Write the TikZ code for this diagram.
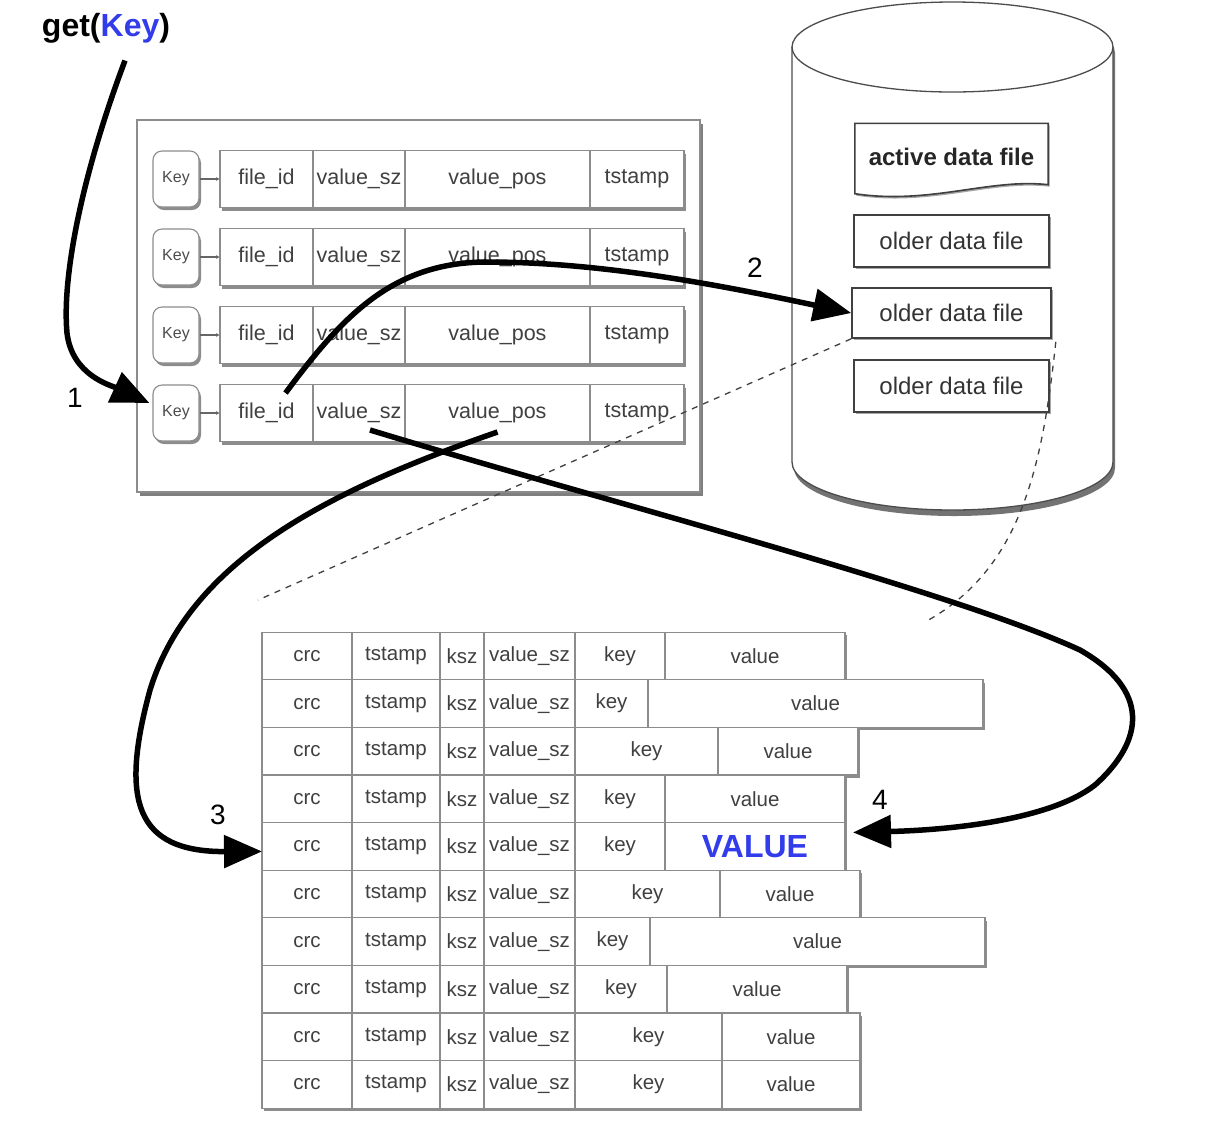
\documentclass[tikz,border=0pt]{standalone}
\usepackage{fontspec}
\setmainfont{Liberation Sans}
\usetikzlibrary{arrows.meta,shadows,calc}
\definecolor{keyblue}{RGB}{50,60,235}
\newcommand\valtxt{{\fontsize{32}{36}\selectfont\bfseries\color{keyblue}VALUE}}
\begin{document}
\begin{tikzpicture}[x=1pt,y=-1pt,
  shad/.style={drop shadow={shadow xshift=2pt,shadow yshift=-3pt,opacity=0.45,fill=black}},
  cell/.style={draw=black!45,line width=1.1pt,fill=white,inner sep=0pt,outer sep=0pt,
    minimum height=57pt,font=\fontsize{21.5}{24}\selectfont,text=black!75},
  bcell/.style={cell,minimum height=47.6pt,font=\fontsize{20.5}{23}\selectfont},
  keybox/.style={draw=black!45,line width=1.1pt,rounded corners=9pt,fill=white,
    minimum width=46pt,minimum height=56pt,inner sep=0pt,
    font=\fontsize{16}{18}\selectfont,text=black!70,shad},
  filebox/.style={draw=black!75,line width=1.6pt,fill=white,inner sep=0pt,
    font=\fontsize{24}{28}\selectfont,text=black!80,
    drop shadow={shadow xshift=1.5pt,shadow yshift=-2pt,opacity=0.35,fill=black}},
  flow/.style={line width=5.5pt,-{Triangle[length=38pt,width=32pt]}},
  num/.style={font=\fontsize{28}{32}\selectfont},
  dashl/.style={dash pattern=on 6pt off 6pt,line width=1.3pt,black!75}]
\useasboundingbox (0,0) rectangle (1222,1144);

% ---------- index (keydir) ----------
\path[fill=white,draw=black!45,line width=1.3pt,
  drop shadow={shadow xshift=2.5pt,shadow yshift=-4pt,opacity=0.5,fill=black}]
  (137,120) rectangle (700,492);
\node[inner sep=0pt] (index) at (418.5,306) {};

\foreach \i in {1,...,4}{
  \pgfmathsetmacro\yc{179+78*(\i-1)}
  \path[fill=white,shad] (220,\yc-28.5) rectangle (684,\yc+28.5);
  \node[keybox] (k\i) at (176,\yc) {Key};
  \node[cell,minimum width=93pt] (f\i) at (266.5,\yc) {file\_id};
  \node[cell,minimum width=92pt] (s\i) at (359,\yc) {value\_sz};
  \node[cell,minimum width=185pt] (p\i) at (497.5,\yc) {value\_pos};
  \node[cell,minimum width=94pt] (t\i) at (637,\yc) {tstamp};
  \draw[black!60,line width=1.2pt,-{Latex[length=4pt,width=4pt]}] (k\i) -- (f\i);
}

% ---------- disk cylinder ----------
\path[fill=white,draw=black!70,line width=1.3pt,
  drop shadow={shadow xshift=2pt,shadow yshift=-6pt,opacity=0.55,fill=black}]
  (792,47) -- (792,462) arc[start angle=180,end angle=0,x radius=160.5,y radius=48]
  -- (1113,47) arc[start angle=0,end angle=-180,x radius=160.5,y radius=45] -- cycle;
\draw[black!70,line width=1.3pt] (792,47) arc[start angle=180,end angle=0,x radius=160.5,y radius=45];

\node[inner sep=0pt,minimum width=193pt,minimum height=63pt] (active) at (951.5,155) {};
\path[fill=white,draw=black!75,line width=1.6pt,
  drop shadow={shadow xshift=1.5pt,shadow yshift=-2pt,opacity=0.35,fill=black}]
  (active.north west) -- (active.north east) -- ($(active.south east)+(0,-2)$)
  .. controls (990,178) and (930,205) .. ($(active.south west)+(0,7)$) -- cycle;
\node[font=\fontsize{24}{28}\selectfont\bfseries,text=black!85] (activetxt) at (951.5,157) {active data file};

\node[filebox,minimum width=195pt,minimum height=52pt] (o1) at (951.5,241) {older data file};
\node[filebox,minimum width=199pt,minimum height=50pt] (o2) at (951.5,313) {older data file};
\node[filebox,minimum width=195pt,minimum height=52pt] (o3) at (951.5,386) {older data file};

% ---------- data file records ----------
\foreach \r/\ke/\ve/\vt in {1/665/845/value,2/648/983/value,3/718/858/value,
  4/665/845/value,5/665/845/{\valtxt},6/720/860/value,7/650/985/value,
  8/667/847/value,9/722/860/value,10/722/860/value}{
  \pgfmathsetmacro\yc{656+47.6*(\r-1)}
  \pgfmathsetmacro\kc{(575+\ke)/2}
  \pgfmathsetmacro\kw{\ke-575}
  \pgfmathsetmacro\vc{(\ke+\ve)/2}
  \pgfmathsetmacro\vw{\ve-\ke}
  \path[fill=white,shad] (262,\yc-23.8) rectangle (\ve,\yc+23.8);
  \node[bcell,minimum width=90pt] (crc\r) at (307,\yc) {crc};
  \node[bcell,minimum width=88pt] (ts\r) at (396,\yc) {tstamp};
  \node[bcell,minimum width=44pt] (ksz\r) at (462,\yc) {ksz};
  \node[bcell,minimum width=91pt] (vsz\r) at (529.5,\yc) {value\_sz};
  \node[bcell,minimum width=\kw pt] (key\r) at (\kc,\yc) {key};
  \node[bcell,minimum width=\vw pt] (val\r) at (\vc,\yc) {\vt};
}

% ---------- dashed zoom lines ----------
\coordinate (dl) at (258,600);
\coordinate (dr) at (925,622);
\draw[dashl] (o2.south west) -- (dl);
\draw[dashl] ($(o2.south east)+(4,3)$) .. controls (1042,470) and (1020,570) .. (dr);

% ---------- get(Key) ----------
\node[font=\fontsize{32}{36}\selectfont\bfseries] (get) at (106,28) {get({\color{keyblue}Key})};

% ---------- flow arrows ----------
\draw[flow] ($(get.south)+(19,14)$) .. controls (80,180) and (62,280) .. (67,333)
  .. controls (72,375) and (110,385) .. ($(k4.west)+(-3,-10)$);
\draw[flow] ($(f4.center)+(19,-20)$) .. controls (340,320) and (390,262) .. (487,262)
  .. controls (600,262) and (720,285) .. (o2.west);
\draw[flow] ($(p4.center)+(0,19)$) .. controls (330,490) and (190,560) .. (150,690)
  .. controls (120,800) and (135,852) .. ($(crc5.west)+(0,5)$);
\draw[flow] ($(s4.center)+(11,17)$) .. controls (600,500) and (950,590) .. (1080,650)
  .. controls (1150,690) and (1145,740) .. (1095,785)
  .. controls (1050,820) and (950,830) .. ($(val5.east)+(8,-14)$);

\node[num] (n1) at (75,398) {1};
\node[num] (n2) at (755,268) {2};
\node[num] (n3) at (218,815) {3};
\node[num] (n4) at (880,800) {4};
\end{tikzpicture}
\end{document}
